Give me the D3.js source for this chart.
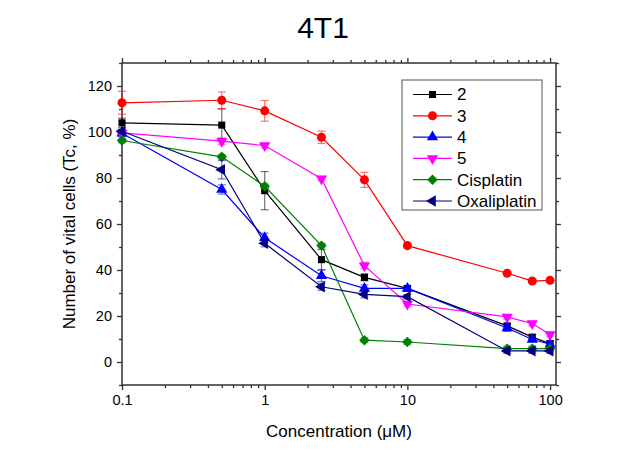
<!DOCTYPE html>
<html>
<head>
<meta charset="utf-8">
<script src="https://cdn.jsdelivr.net/npm/d3@7"></script>
<style>
  body { margin: 0; background: #fff; }
  text { font-family: "Liberation Sans", Arial, sans-serif; fill: #000; }
</style>
</head>
<body>
<div id="c1"></div>
<script>
// concentrations (uM) and series values
const conc = [0.1, 0.5, 1, 2.5, 5, 10, 50, 75, 100];
const names = ["2", "3", "4", "5", "Cisplatin", "Oxaliplatin"];
const vals2 = [104, 103, 74.5, 44.5, 36.8, 32, 15.7, 10.8, 8];
const err2 = [2, 7, 8.3, 4.4, 1.5, 1, 1, 1, 1];
const vals3 = [112.7, 113.8, 109.2, 97.7, 79.2, 50.6, 38.6, 35.2, 35.5];
const err3 = [5, 3.6, 4.5, 2.7, 3.3, 1, 0.8, 0.8, 0.8];
const vals4 = [99.5, 75, 54, 37.5, 32, 32, 14.8, 9.8, 7.7];
const err4 = [1.5, 2, 2, 2.5, 1.5, 1, 1.5, 1, 1.5];
const vals5 = [99.6, 96, 94.1, 79.7, 41.9, 25.2, 19.6, 16.7, 12];
const err5 = [1, 1.5, 1, 1, 1.5, 1, 1, 1, 1];
const valsCis = [96.3, 89.2, 76.4, 50.6, 9.5, 8.7, 5.8, 5.8, 5.8];
const errCis = [1, 1, 1, 1, 1, 1, 1, 1, 1];
const valsOxa = [100.3, 83.6, 51.6, 32.7, 29.4, 28.4, 4.8, 4.8, 4.8];
const errOxa = [1, 4, 1.5, 1.5, 1.5, 1, 1, 1, 1];
const xTicks = [0.1, 1, 10, 100];
const yTicks = [0, 20, 40, 60, 80, 100, 120];

const W = 631, H = 451;
const margin = {top: 63, right: 75, bottom: 66, left: 122};
const width = W - margin.left - margin.right,
      height = H - margin.top - margin.bottom;

const colors = ["#000000", "#ff0000", "#0000ff", "#ff00ff", "#008000", "#000080"];
const symbols = [
  {type: d3.symbolSquare, size: 50, rot: 0},
  {type: d3.symbolCircle, size: 64, rot: 0},
  {type: d3.symbolTriangle, size: 55, rot: 0},
  {type: d3.symbolTriangle, size: 55, rot: 180},
  {type: d3.symbolSquare, size: 55, rot: 45},
  {type: d3.symbolTriangle, size: 55, rot: -90}
];
const allVals = [vals2, vals3, vals4, vals5, valsCis, valsOxa];
const allErr = [err2, err3, err4, err5, errCis, errOxa];

const series = names.map((n, i) => ({
  name: n, color: colors[i], sym: symbols[i],
  pts: conc.map((c, j) => ({c: c, v: allVals[i][j], e: allErr[i][j]}))
}));

const svg = d3.select("#c1").append("svg")
  .attr("width", W).attr("height", H);

svg.append("text")
  .attr("x", 323).attr("y", 38)
  .attr("text-anchor", "middle")
  .style("font-size", "30px")
  .text("4T1");

const g = svg.append("g")
  .attr("transform", `translate(${margin.left}, ${margin.top})`);

const x = d3.scaleLog().domain([0.1, 110]).range([0, width]);
const y = d3.scaleLinear().domain([-10, 130]).range([height, 0]);

// minor ticks
const xMinor = [];
[0.1, 1, 10].forEach(d => { for (let k = 2; k <= 9; k++) xMinor.push(d * k); });
const yMinor = d3.range(-10, 131, 10).filter(v => v % 20 !== 0);

const axisColor = "#333";
function styleAxis(sel) {
  sel.selectAll("line").attr("stroke", axisColor).attr("stroke-width", 1.3);
  sel.selectAll("text").style("font-size", "14.5px").attr("fill", "#000");
  sel.select(".domain").remove();
}

// bottom
g.append("g").attr("transform", `translate(0, ${height})`)
  .call(d3.axisBottom(x).tickValues(xTicks).tickFormat(d3.format("~g")).tickSize(5).tickPadding(5))
  .call(styleAxis);
g.append("g").attr("transform", `translate(0, ${height})`)
  .call(d3.axisBottom(x).tickValues(xMinor).tickFormat("").tickSize(3))
  .call(styleAxis);
// top
g.append("g")
  .call(d3.axisTop(x).tickValues(xTicks).tickFormat("").tickSize(5))
  .call(styleAxis);
g.append("g")
  .call(d3.axisTop(x).tickValues(xMinor).tickFormat("").tickSize(3))
  .call(styleAxis);
// left
g.append("g")
  .call(d3.axisLeft(y).tickValues(yTicks).tickSize(5).tickPadding(5))
  .call(styleAxis);
g.append("g")
  .call(d3.axisLeft(y).tickValues(yMinor).tickFormat("").tickSize(3))
  .call(styleAxis);
// right
g.append("g").attr("transform", `translate(${width}, 0)`)
  .call(d3.axisRight(y).tickValues(yTicks).tickFormat("").tickSize(5))
  .call(styleAxis);
g.append("g").attr("transform", `translate(${width}, 0)`)
  .call(d3.axisRight(y).tickValues(yMinor).tickFormat("").tickSize(3))
  .call(styleAxis);

// frame
g.append("rect")
  .attr("width", width).attr("height", height)
  .attr("fill", "none").attr("stroke", axisColor).attr("stroke-width", 1.5);

// axis titles
svg.append("text")
  .attr("x", margin.left + width / 2).attr("y", 437)
  .attr("text-anchor", "middle")
  .style("font-size", "17px")
  .text("Concentration (\u03bcM)");
svg.append("text")
  .attr("transform", `translate(75, ${margin.top + height / 2}) rotate(-90)`)
  .attr("text-anchor", "middle")
  .style("font-size", "17px")
  .text("Number of vital cells (Tc, %)");

const line = d3.line().x(d => x(d.c)).y(d => y(d.v));
const symPath = s => d3.symbol().type(s.type).size(s.size)();

series.forEach(s => {
  const sg = g.append("g");
  // error bars
  const eb = sg.selectAll(".err").data(s.pts).join("g")
    .attr("stroke", s.color).attr("stroke-opacity", 0.55).attr("stroke-width", 1.2);
  eb.append("line")
    .attr("x1", d => x(d.c)).attr("x2", d => x(d.c))
    .attr("y1", d => y(d.v - d.e)).attr("y2", d => y(d.v + d.e));
  [1, -1].forEach(sgn => {
    eb.append("line")
      .attr("x1", d => x(d.c) - 4).attr("x2", d => x(d.c) + 4)
      .attr("y1", d => y(d.v + sgn * d.e)).attr("y2", d => y(d.v + sgn * d.e));
  });
  sg.append("path")
    .datum(s.pts)
    .attr("d", line)
    .attr("fill", "none")
    .attr("stroke", s.color)
    .attr("stroke-width", 1.2);
  sg.selectAll(".pt").data(s.pts).join("path")
    .attr("d", symPath(s.sym))
    .attr("transform", d => `translate(${x(d.c)}, ${y(d.v)}) rotate(${s.sym.rot})`)
    .attr("fill", s.color);
});

// legend
const lg = svg.append("g").attr("transform", "translate(402, 80)");
lg.append("rect")
  .attr("width", 140).attr("height", 130)
  .attr("fill", "#fff").attr("stroke", "#555").attr("stroke-width", 1);
series.forEach((s, i) => {
  const ly = 14.5 + i * 21.3;
  lg.append("line")
    .attr("x1", 11).attr("x2", 50).attr("y1", ly).attr("y2", ly)
    .attr("stroke", s.color).attr("stroke-width", 1.2);
  lg.append("path")
    .attr("d", symPath(s.sym))
    .attr("transform", `translate(30.5, ${ly}) rotate(${s.sym.rot})`)
    .attr("fill", s.color);
  lg.append("text")
    .attr("x", 55).attr("y", ly)
    .attr("dy", "0.35em")
    .style("font-size", "17px")
    .text(s.name);
});
</script>
</body>
</html>
